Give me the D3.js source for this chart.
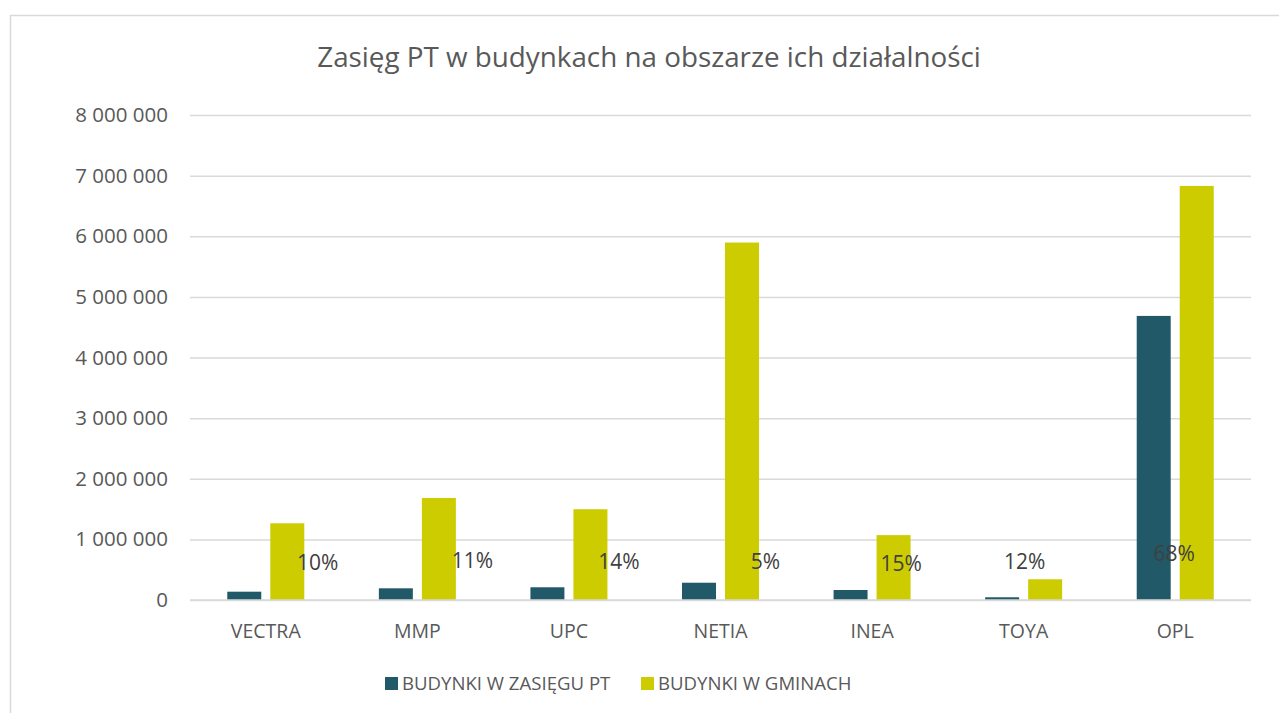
<!DOCTYPE html>
<html lang="pl">
<head>
<meta charset="UTF-8">
<title>Zasięg PT w budynkach</title>
<style>
  body { margin: 0; background: #fff; }
  svg text { font-family: "Open Sans", "Noto Sans", sans-serif; fill: #595959; }
</style>
</head>
<body>
<svg width="1279" height="713"></svg>
<script src="https://d3js.org/d3.v7.min.js"></script>
<script>
// data
var operators = ["VECTRA", "MMP", "UPC", "NETIA", "INEA", "TOYA", "OPL"];
var seriesNames = ["BUDYNKI W ZASIĘGU PT", "BUDYNKI W GMINACH"];
var inRange = [137000, 193000, 210000, 285000, 165000, 45000, 4686000];
var inMunicipality = [1265000, 1683000, 1497000, 5896000, 1070000, 342000, 6830000];
var shareLabels = ["10%", "11%", "14%", "5%", "15%", "12%", "68%"];
var yTicks = [0, 1000000, 2000000, 3000000, 4000000, 5000000, 6000000, 7000000, 8000000];

// layout (manual nudges of the percent labels, in px from category centre)
var labelNudge = [[52, 1], [55, -1], [50, 0], [45, 0], [29, 2], [1, 0], [-1, -8]];
var colors = ["#215968", "#CCCC00"];

var svg = d3.select("svg");
var margin = {left: 190, right: 28, top: 115, bottom: 113};
var width = 1279 - margin.left - margin.right;
var height = 713 - margin.top - margin.bottom;

// outer frame
svg.append("rect")
    .attr("x", 10.5).attr("y", 15.5)
    .attr("width", 1300).attr("height", 720)
    .attr("fill", "none").attr("stroke", "#D9D9D9").attr("stroke-width", 1.5);

var g = svg.append("g").attr("transform", "translate(" + margin.left + "," + margin.top + ")");

var x0 = d3.scaleBand().domain(operators).range([0, width])
    .paddingInner(0.492).paddingOuter(0.246);
var x1 = d3.scaleBand().domain(seriesNames).range([0, x0.bandwidth()]).paddingInner(0.21);
var y = d3.scaleLinear().domain([0, 8000000]).range([height, 0]);

var fmt = function(d) { return d3.format(",")(d).replace(/,/g, " "); };

// gridlines + y labels
var yAxis = d3.axisLeft(y).tickValues(yTicks).tickSize(-width).tickPadding(22).tickFormat(fmt);
var yg = g.append("g").call(yAxis);
yg.select(".domain").remove();
yg.selectAll(".tick line").attr("stroke", "#D9D9D9").attr("stroke-width", 1.5);
yg.selectAll(".tick text").style("font-size", "20.5px").style("fill", "#595959");

var rows = operators.map(function(op, i) {
    return {op: op, values: [inRange[i], inMunicipality[i]]};
});

var groups = g.selectAll(".grp").data(rows).enter().append("g")
    .attr("transform", function(d) { return "translate(" + x0(d.op) + ",0)"; });

groups.selectAll("rect").data(function(d) {
        return d.values.map(function(v, j) { return {s: seriesNames[j], v: v, j: j}; });
    }).enter().append("rect")
    .attr("x", function(d) { return x1(d.s); })
    .attr("width", x1.bandwidth())
    .attr("y", function(d) { return y(d.v); })
    .attr("height", function(d) { return height - y(d.v); })
    .attr("fill", function(d) { return colors[d.j]; });

// baseline drawn over bars
g.append("line").attr("x1", 0).attr("x2", width).attr("y1", y(0)).attr("y2", y(0))
    .attr("stroke", "#D9D9D9").attr("stroke-width", 1.5);

// x labels
var xAxis = d3.axisBottom(x0).tickSize(0).tickPadding(24);
var xg = g.append("g").attr("transform", "translate(0," + height + ")").call(xAxis);
xg.select(".domain").remove();
xg.selectAll(".tick text").style("font-size", "19.5px").style("fill", "#595959");

// percent labels
g.selectAll(".pct").data(shareLabels).enter().append("text")
    .attr("class", "pct")
    .attr("x", function(d, i) { return x0(operators[i]) + x0.bandwidth() / 2 + labelNudge[i][0]; })
    .attr("y", function(d, i) { return y(0) - 38 + labelNudge[i][1]; })
    .attr("dy", "0.35em")
    .attr("text-anchor", "middle")
    .style("font-size", "21px")
    .style("fill", "#404040")
    .text(function(d) { return d; });

// title
svg.append("text")
    .attr("x", 649).attr("y", 67)
    .attr("text-anchor", "middle")
    .style("font-size", "27.8px")
    .text("Zasięg PT w budynkach na obszarze ich działalności");

// legend
var legendX = [385, 641];
var legend = svg.selectAll(".leg").data(seriesNames).enter().append("g")
    .attr("transform", function(d, i) { return "translate(" + legendX[i] + ",677)"; });
legend.append("rect").attr("width", 13).attr("height", 13)
    .attr("fill", function(d, i) { return colors[i]; });
legend.append("text").attr("x", 17).attr("y", 6.5).attr("dy", "0.35em")
    .style("font-size", "18.6px")
    .text(function(d) { return d; });
</script>
</body>
</html>
